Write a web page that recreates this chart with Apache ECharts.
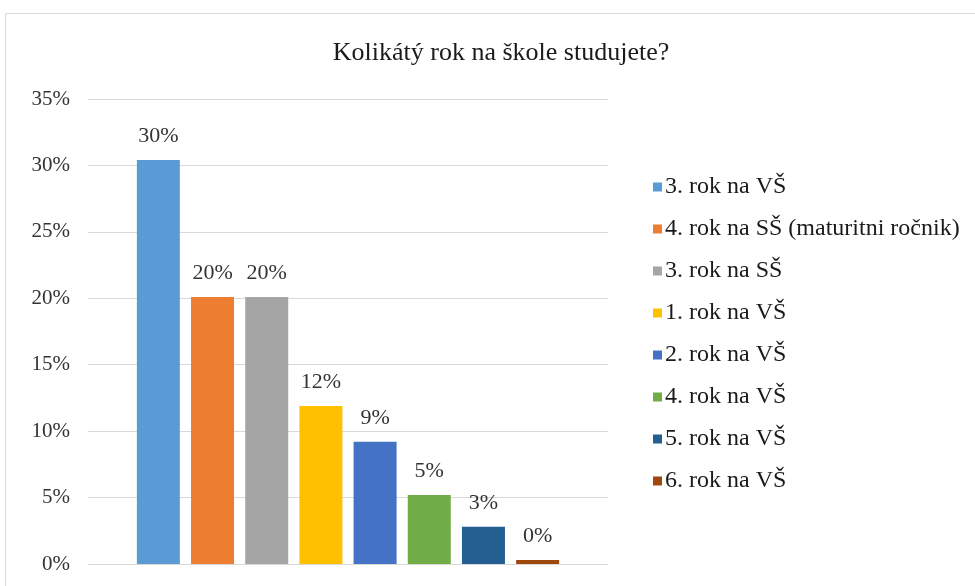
<!DOCTYPE html>
<html>
<head>
<meta charset="utf-8">
<script src="https://cdn.jsdelivr.net/npm/echarts@6/dist/echarts.min.js"></script>
<style>
  html, body { margin: 0; padding: 0; background: #fff; }
  #chart { width: 975px; height: 586px; }
</style>
</head>
<body>
<div id="chart"></div>
<script>
let names = ['3. rok na VŠ', '4. rok na SŠ (maturitni ročnik)', '3. rok na SŠ', '1. rok na VŠ',
  '2. rok na VŠ', '4. rok na VŠ', '5. rok na VŠ', '6. rok na VŠ'];
let values = [30.4, 20.1, 20.1, 11.9, 9.2, 5.2, 2.8, 0.3];
let colors = ['#5B9BD5', '#ED7D31', '#A5A5A5', '#FFC000', '#4472C4', '#70AD47', '#255E91', '#9E480E'];

const FONT = '"Liberation Serif", "DejaVu Serif", serif';
let chart = echarts.init(document.getElementById('chart'));

let series = names.map((n, i) => ({
  name: n,
  type: 'bar',
  barWidth: 43,
  barGap: '26%',
  itemStyle: { color: colors[i] },
  label: {
    show: true,
    position: 'top',
    distance: 13,
    color: '#333333',
    fontFamily: FONT,
    fontSize: 22,
    formatter: p => Math.round(p.value) + '%'
  },
  data: [values[i]]
}));

chart.setOption({
  animation: false,
  color: colors,
  title: {
    text: 'Kolikátý rok na škole studujete?',
    left: 496,
    textAlign: 'center',
    top: 35,
    textStyle: { fontFamily: FONT, fontSize: 26, fontWeight: 'normal', color: '#1a1a1a' }
  },
  graphic: [{
    type: 'rect',
    shape: { x: 5.5, y: 13.5, width: 1000, height: 1000 },
    style: { fill: 'none', stroke: '#d9d9d9', lineWidth: 1 },
    silent: true
  }],
  legend: {
    orient: 'vertical',
    left: 648,
    top: 170,
    itemWidth: 9,
    itemHeight: 9,
    itemGap: 18,
    icon: 'rect',
    textStyle: { fontFamily: FONT, fontSize: 24, color: '#1a1a1a', padding: [0, 0, 0, -2] },
    data: names
  },
  grid: { left: 88, right: 367, top: 99, bottom: 22 },
  xAxis: {
    type: 'category',
    data: [''],
    axisLine: { lineStyle: { color: '#d9d9d9' } },
    axisTick: { show: false },
    axisLabel: { show: false }
  },
  yAxis: {
    type: 'value',
    min: 0,
    max: 35,
    interval: 5,
    axisLine: { show: false },
    axisTick: { show: false },
    splitLine: { lineStyle: { color: '#d9d9d9', width: 1 } },
    axisLabel: {
      formatter: '{value}%',
      fontFamily: FONT,
      fontSize: 21,
      color: '#333333',
      margin: 18
    }
  },
  series: series
});
</script>
</body>
</html>
